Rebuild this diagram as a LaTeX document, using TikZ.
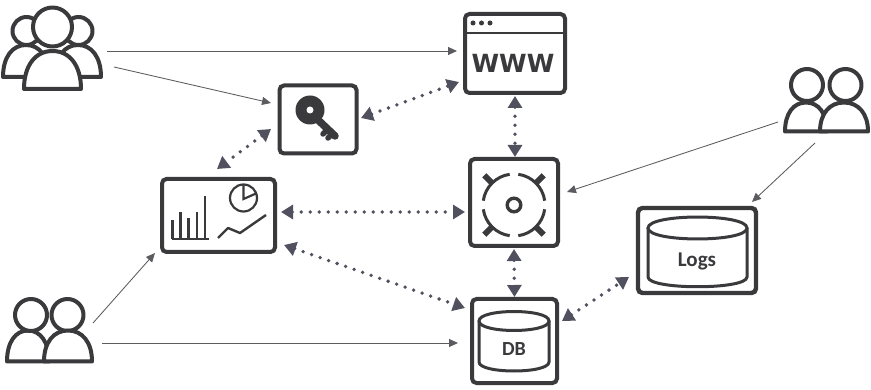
\documentclass[tikz,border=0pt]{standalone}
\usepackage{fontspec}
\newfontfamily\labfont{Carlito}
\newfontfamily\webfont{DejaVu Sans}
\usetikzlibrary{arrows.meta}
\definecolor{ink}{HTML}{3A3A3D}
\definecolor{dotc}{HTML}{50505F}
\definecolor{thinc}{HTML}{5C5C60}
\tikzset{
  box/.style={draw=ink,line width=4pt,rounded corners=4.5pt,fill=white,outer sep=0pt,inner sep=0pt},
  ghost/.style={outer sep=0pt,inner sep=0pt},
  flow/.style={draw=thinc,line width=0.85pt,-{Triangle[length=9pt,width=8pt]}},
  dotlink/.style={draw=dotc,line width=3.8pt,line cap=round,dash pattern=on 0pt off 9pt,
     {Triangle[length=12pt,width=14pt,fill=dotc]}-{Triangle[length=12pt,width=14pt,fill=dotc]}},
  person/.style={draw=ink,line width=4pt,fill=white,line join=round},
  icon/.style={draw=ink,line width=2.6pt,line cap=butt},
  cyl/.style={draw=ink,line width=3pt,fill=white},
}
\newcommand{\dome}[4]{% cx, base y, half width, height
  \path[person] ({#1-#3},#2) .. controls ({#1-#3},{#2-0.62*#4}) and ({#1-0.6*#3},{#2-#4}) .. (#1,{#2-#4})
     .. controls ({#1+0.6*#3},{#2-#4}) and ({#1+#3},{#2-0.62*#4}) .. ({#1+#3},#2) -- cycle;}
\newcommand{\headc}[3]{\path[person] (#1,#2) circle[radius=#3];}
\newcommand{\cylinder}[6]{% cx, top cy, rx, ry, side bottom y, sag
  \path[cyl] ({#1-#3},#2) -- ({#1-#3},#5) .. controls ({#1-#3},{#5+#6}) and ({#1+#3},{#5+#6}) .. ({#1+#3},#5) -- ({#1+#3},#2);
  \path[cyl] ({#1-#3},#2) .. controls ({#1-#3},{#2-1.33*#4}) and ({#1+#3},{#2-1.33*#4}) .. ({#1+#3},#2)
     .. controls ({#1+#3},{#2+1.33*#4}) and ({#1-#3},{#2+1.33*#4}) .. ({#1-#3},#2) -- cycle;}
\begin{document}
\begin{tikzpicture}[x=1pt,y=-1pt]
\useasboundingbox[fill=white] (0,0) rectangle (871,390);

% boxes
\node[box,minimum width=77pt,minimum height=68pt] (key) at (318,119.5) {};
\node[box,minimum width=100pt,minimum height=79pt] (www) at (515,53.5) {};
\node[box,minimum width=88pt,minimum height=87pt] (vault) at (514,202.5) {};
\node[box,minimum width=85pt,minimum height=84pt] (db) at (514.5,341) {};
\node[box,line width=4.4pt,minimum width=118pt,minimum height=85pt] (logs) at (697,250.5) {};
\node[box,minimum width=113pt,minimum height=73pt] (dash) at (218.5,215.5) {};

% people groups
\node[ghost,minimum width=100pt,minimum height=84pt] (usersA) at (52,48) {};
\node[ghost,minimum width=87pt,minimum height=65pt] (usersB) at (49.5,330.5) {};
\node[ghost,minimum width=86pt,minimum height=65pt] (usersC) at (826,100.5) {};

\dome{26}{77}{23}{32}
\dome{78}{77}{23}{32}
\headc{26.5}{31}{14}
\headc{78.5}{31}{14}
\dome{52.5}{89}{28.5}{38}
\headc{52.5}{27}{19.5}

\dome{28}{361.5}{21}{31}
\headc{31}{315}{16}
\headc{67.5}{315}{16}
\dome{68}{361.5}{24}{31}

\dome{806}{131.5}{21}{29}
\headc{807}{85}{16}
\headc{845.5}{85}{16}
\dome{844}{131.5}{24}{29}

% key icon
\path[fill=ink] (310,110) circle[radius=14.5];
\draw[ink,line width=7.5pt,line cap=round] (316,118) -- (335,136);
\draw[ink,line width=5.5pt,line cap=round] (326,131) -- (323,134);
\draw[ink,line width=5.5pt,line cap=round] (331,135) -- (328,138);
\path[fill=white] (310,110) circle[radius=3.5];

% www icon
\draw[icon] (www.west |- 0,33) -- (www.east |- 0,33);
\path[fill=ink] (473,23) circle[radius=2.5] (481.5,23) circle[radius=2.5] (490,23) circle[radius=2.5];
\node[ghost,text=ink,font=\webfont\bfseries\fontsize{25}{25}\selectfont] (wwwlabel) at (513,63) {WWW};

% vault icon
\draw[ink,line width=3.4pt] (514,205) circle[radius=6.8];
\foreach \s/\e in {8/82,98/172,188/262,278/352}{
  \draw[ink,line width=3pt] ({514+31*cos(\s)},{205-31*sin(\s)})
     arc[start angle=-\s,end angle=-\e,radius=31];
}
\foreach \a in {45,135,225,315}{
  \draw[ink,line width=6pt] ({514+30*cos(\a)},{205-30*sin(\a)}) -- ({514+42*cos(\a)},{205-42*sin(\a)});
}

% dashboard icon
\draw[icon,line width=2.2pt] (172,239) -- (209,239);
\foreach \x/\t in {172.5/220,180.5/212,188.5/218,197/212,205/196}{
  \draw[icon,line width=2.2pt] (\x,239) -- (\x,\t);
}
\draw[icon,line width=2.2pt] (243.5,198) circle[radius=13.5];
\draw[icon,line width=2.2pt] (243.5,185) -- (243.5,199) -- (256,193.5);
\draw[icon,line width=2.4pt,line join=round] (218,238) -- (228,228) -- (240,233) -- (266,215);

% cylinders
\cylinder{514}{321}{35}{9.5}{362}{12}
\node[ghost,text=ink,font=\labfont\bfseries\fontsize{20}{20}\selectfont] (dblabel) at (514,349) {DB};
\cylinder{697.5}{228}{49.5}{11}{277}{13}
\node[ghost,text=ink,font=\labfont\bfseries\fontsize{21}{21}\selectfont] (logslabel) at (697,261) {Logs};

% thin flows
\draw[flow] ([shift={(5,3)}]usersA.east) -- ([shift={(-8,-2.5)}]www.west);
\draw[flow] ([shift={(12,19)}]usersA.east) -- ([shift={(-8.5,-16.5)}]key.west);
\draw[flow] ([shift={(0,-7.5)}]usersB.east) -- ([shift={(-63.5,1)}]dash.south);
\draw[flow] ([shift={(9,12.5)}]usersB.east) -- ([shift={(-14,2)}]db.west);
\draw[flow] ([shift={(-5,21.5)}]usersC.west) -- ([shift={(9,-10.5)}]vault.east);
\draw[flow] ([shift={(-11,10)}]usersC.south) -- ([shift={(55,-6)}]logs.north);

% dotted links
\draw[dotlink] ([shift={(4.5,-1.5)}]key.east) -- ([shift={(-6,28.5)}]www.west);
\draw[dotlink] ([shift={(-8.5,9.5)}]key.west) -- ([shift={(-1.5,-10)}]dash.north);
\draw[dotlink] ([shift={(0,3)}]www.south) -- ([shift={(1,-2)}]vault.north);
\draw[dotlink] ([shift={(6,-3.5)}]dash.east) -- ([shift={(-5,9.5)}]vault.west);
\draw[dotlink] ([shift={(9,29.5)}]dash.east) -- ([shift={(-7,-33)}]db.west);
\draw[dotlink] ([shift={(0,3)}]vault.south) -- ([shift={(0,-2)}]db.north);
\draw[dotlink] ([shift={(5,-20)}]db.east) -- ([shift={(-9,26.5)}]logs.west);
\end{tikzpicture}
\end{document}
